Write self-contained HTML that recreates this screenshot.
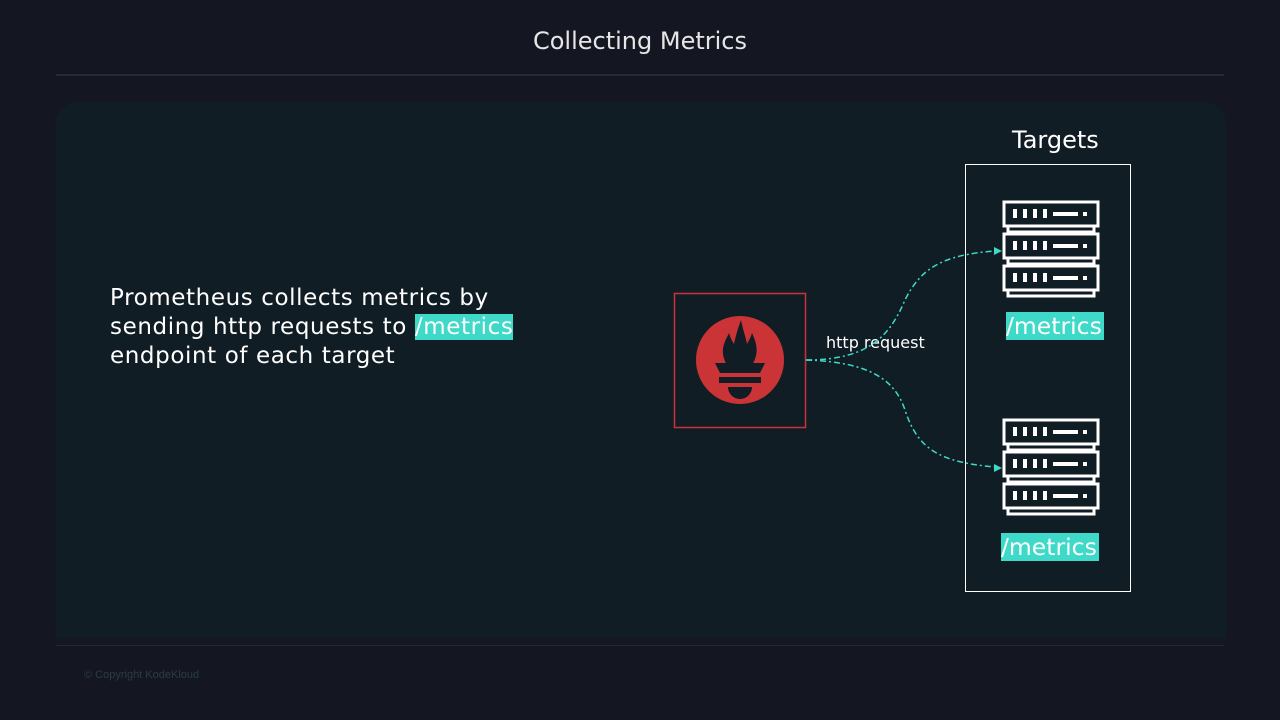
<!DOCTYPE html>
<html><head><meta charset="utf-8"><style>
body{margin:0;width:1280px;height:720px;background:#141722;font-family:"Liberation Sans","DejaVu Sans",sans-serif;position:relative;overflow:hidden}
.t{position:absolute;color:#fff;white-space:nowrap}
.hl{background:#3ed9c8;color:#fff}
</style></head><body>
<div class="t" style="left:0;width:1280px;text-align:center;top:27px;font-size:24px;color:#e6e6e6;font-family:'DejaVu Sans',sans-serif">Collecting Metrics</div>
<div style="position:absolute;left:56px;top:74px;width:1168px;height:2px;background:#262a33"></div>
<div style="position:absolute;left:56px;top:102px;width:1170px;height:536px;background:#111d24;border-radius:22px 22px 0 0"></div>
<div style="position:absolute;left:56px;top:645px;width:1168px;height:1px;background:#262a33"></div>
<div class="t" style="left:84px;top:669px;font-size:11px;color:#2a3c44">© Copyright KodeKloud</div>
<div class="t" style="left:110px;top:284px;font-size:23px;letter-spacing:0.6px;line-height:29px;font-family:'DejaVu Sans',sans-serif">Prometheus collects metrics by<br>sending http requests to <span class="hl">/metrics</span><br>endpoint of each target</div>
<div class="t" style="left:1012px;top:126px;font-size:24px;font-family:'DejaVu Sans',sans-serif">Targets</div>
<div style="position:absolute;left:965px;top:164px;width:164px;height:426px;border:1.5px solid #fff"></div>
<div class="t" style="left:1006px;top:312px;font-size:23.5px;line-height:28px;font-family:'DejaVu Sans',sans-serif"><span class="hl" style="padding-right:2px">/metrics</span></div>
<div class="t" style="left:1001px;top:533px;font-size:23.5px;line-height:28px;font-family:'DejaVu Sans',sans-serif"><span class="hl" style="padding-right:2px">/metrics</span></div>
<div class="t" style="left:826px;top:333px;font-size:16px;font-family:'DejaVu Sans',sans-serif">http request</div>
<svg width="1280" height="720" style="position:absolute;left:0;top:0">
<defs>
<g id="srv" fill="none" stroke="#fff" stroke-width="3">
<g id="u"><rect x="1004" y="202" width="94" height="24"/><rect x="1008" y="226" width="86" height="6"/>
<g stroke-width="4"><line x1="1015" y1="209" x2="1015" y2="218"/><line x1="1025" y1="209" x2="1025" y2="218"/><line x1="1035" y1="209" x2="1035" y2="218"/><line x1="1045" y1="209" x2="1045" y2="218"/><line x1="1053" y1="214" x2="1078" y2="214"/><line x1="1085" y1="212" x2="1085" y2="216"/></g></g>
<use href="#u" y="32"/><use href="#u" y="64"/>
</g>
</defs>
<use href="#srv"/>
<use href="#srv" y="218"/>
<rect x="674.5" y="293.5" width="131" height="134" fill="none" stroke="#c9323a" stroke-width="1.5"/>
<circle cx="740" cy="360" r="44" fill="#cb3437"/>
<path d="M727 365 C718 350 726 340 729 333 C731 340 733 342 734 344 C736 335 738 328 741 320 C743 330 746 338 747 344 C749 340 751 337 752 333 C756 342 760 352 752 365 Z M715 363 L765 363 L760 373 L720 373 Z" fill="#111d24"/>
<rect x="719" y="377" width="42" height="6" fill="#111d24"/>
<path d="M728 387 L752 387 A12 12 0 0 1 728 387 Z" fill="#111d24"/>
<g fill="none" stroke="#3ed9c8" stroke-width="1.5" stroke-dasharray="6 3 2 3">
<path d="M806 360 C870 360 890 335 905 300 C920 270 940 255 995 251"/>
<path d="M806 360 C870 362 895 380 905 410 C918 450 940 462 995 467"/>
</g>
<path d="M1002 251 L994 247 L994 255 Z" fill="#3ed9c8"/>
<path d="M1002 468 L994 464 L994 472 Z" fill="#3ed9c8"/>
</svg>
</body></html>
